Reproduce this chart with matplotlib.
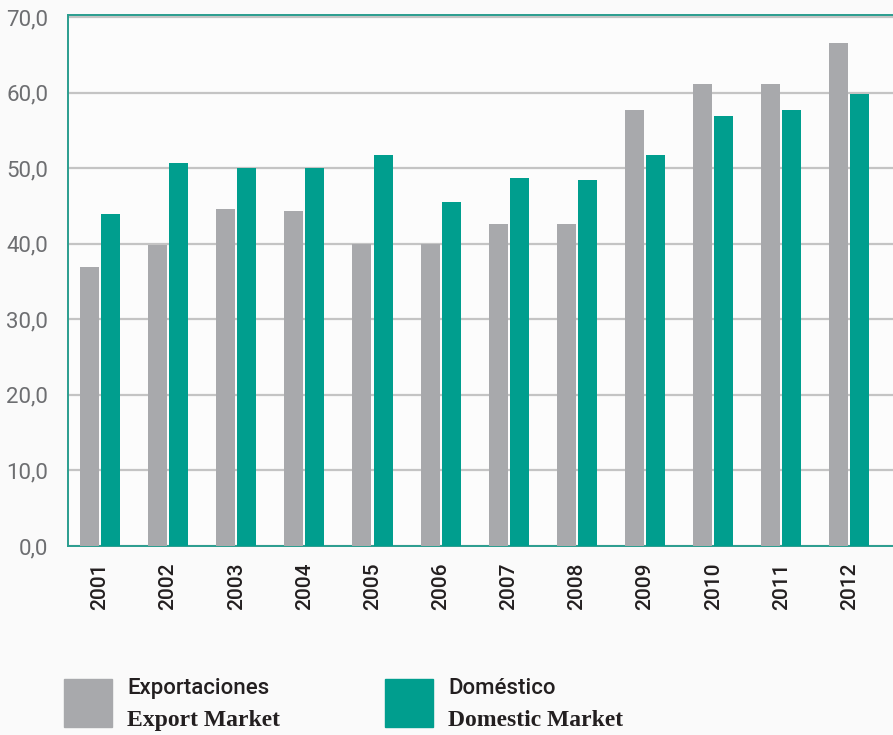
import matplotlib
matplotlib.use("Agg")
import matplotlib.pyplot as plt
import numpy as np
from matplotlib.patches import Rectangle

years = ['2001', '2002', '2003', '2004', '2005', '2006',
         '2007', '2008', '2009', '2010', '2011', '2012']
export_vals = [37.0, 39.8, 44.6, 44.3, 40.0, 40.0, 42.6, 42.6, 57.7, 61.1, 61.1, 66.6]
domestic_vals = [44.0, 50.7, 50.0, 50.0, 51.7, 45.6, 48.7, 48.5, 51.7, 56.9, 57.7, 59.8]
y_ticks = [0, 10, 20, 30, 40, 50, 60, 70]

GRAY = '#a8a9ac'
TEAL = '#009e8e'
BG = '#fafafa'

fig = plt.figure(figsize=(8.93, 7.35), dpi=100, facecolor=BG)
ax = fig.add_axes([67.7 / 893, 1 - 546 / 735, 1 - 67.7 / 893, (546 - 15) / 735])
ax.set_facecolor('#fcfcfc')

x = np.arange(len(years))
w = 0.28
ax.bar(x - 0.155, export_vals, width=w, color=GRAY, zorder=3)
ax.bar(x + 0.155, domestic_vals, width=w, color=TEAL, zorder=3)

ax.set_xlim(-0.474, 11.64)
ax.set_ylim(0, 70.3)
ax.set_yticks(y_ticks)
ax.set_yticklabels([f'{v},0' for v in y_ticks], fontfamily='Roboto',
                   fontsize=16, color='#6d6e71')
ax.set_xticks(x)
ax.set_xticklabels(years, rotation=90, fontfamily='Roboto', fontsize=15,
                   fontweight='medium', color='#231f20')
ax.tick_params(axis='both', length=0)
ax.tick_params(axis='y', pad=14)
ax.tick_params(axis='x', pad=12)

ax.grid(axis='y', color='#c4c4c4', linewidth=1.6, zorder=0)
for s in ['left', 'top', 'bottom']:
    ax.spines[s].set_color('#2a9d8f')
    ax.spines[s].set_linewidth(1.4)
ax.spines['right'].set_visible(False)

# legend drawn in figure pixel coords
def px(xp, yp):
    return xp / 893, 1 - yp / 735

for x0, col, top, bottom in [(64, GRAY, 'Exportaciones', 'Export Market'),
                             (385, TEAL, 'Doméstico', 'Domestic Market')]:
    fx, fy = px(x0, 727)
    fig.patches.append(Rectangle((fx, fy), 48 / 893, 48 / 735, color=col,
                                 transform=fig.transFigure, figure=fig))
    tx, ty = px(x0 + 63, 694)
    fig.text(tx, ty, top, fontfamily='Roboto', fontsize=16, fontweight='medium',
             color='#231f20', va='baseline', ha='left')
    tx, ty = px(x0 + 63, 726)
    fig.text(tx, ty, bottom, fontfamily='Liberation Serif', fontweight='bold',
             fontsize=17, color='#231f20', va='baseline', ha='left')

fig.savefig('out.png', dpi=100, facecolor=BG)
